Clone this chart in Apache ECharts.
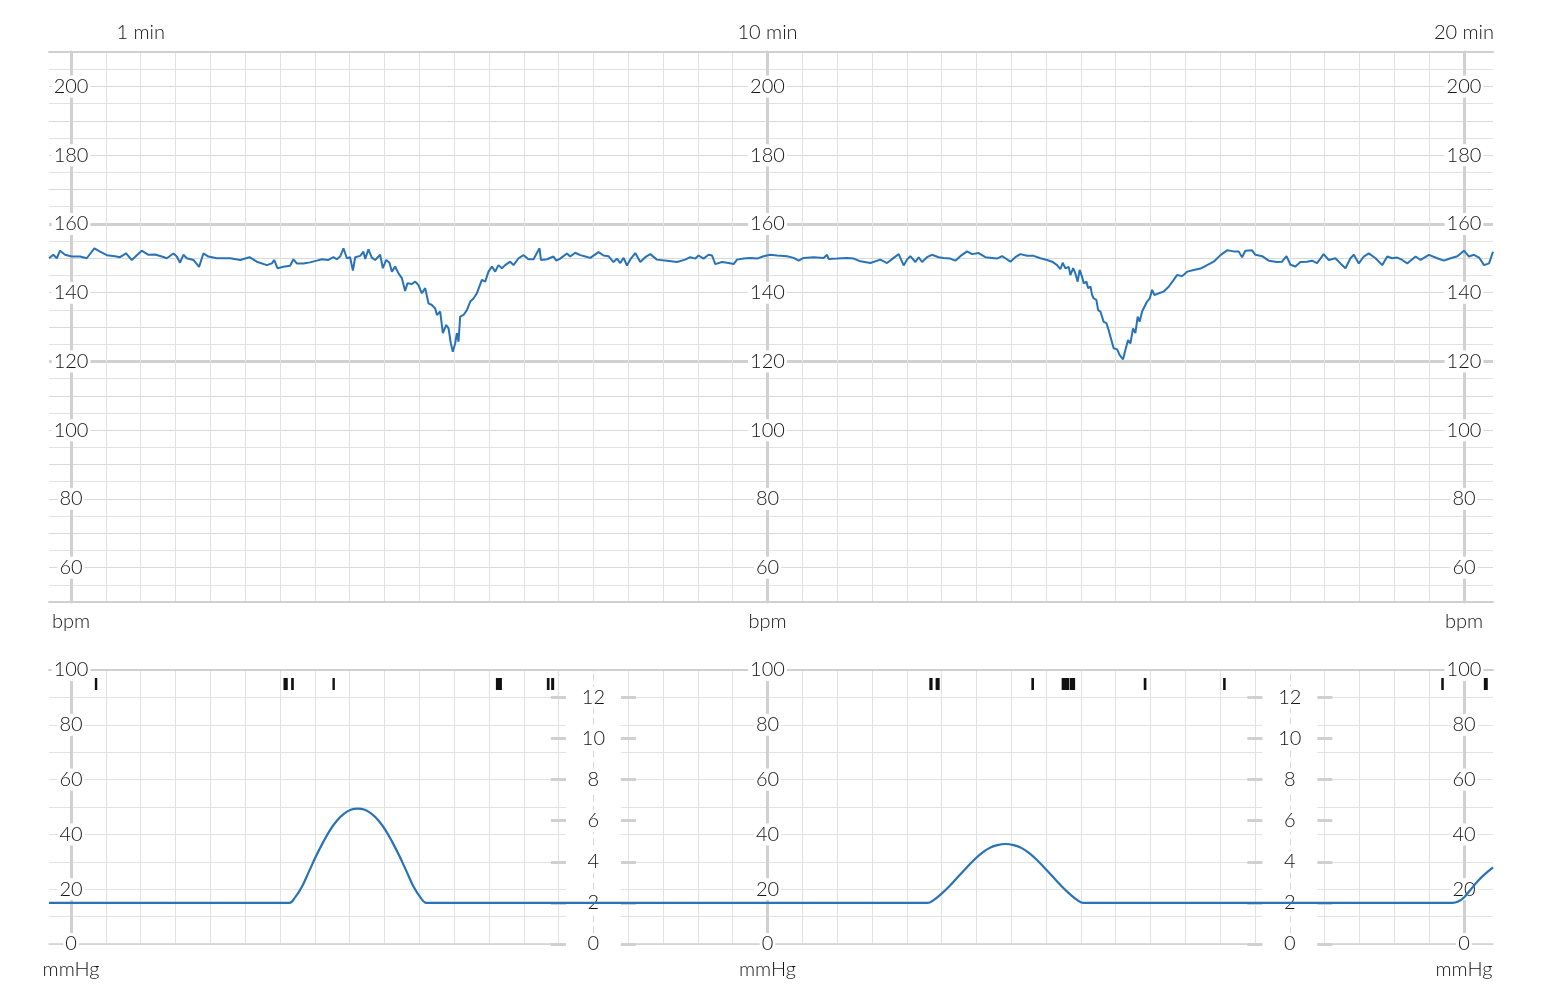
<!DOCTYPE html>
<html><head><meta charset="utf-8">
<script src="https://cdn.jsdelivr.net/npm/echarts@6/dist/echarts.min.js"></script>
<style>html,body{margin:0;padding:0;background:#fff}#c{width:1542px;height:1000px}</style>
</head><body><div id="c"></div>
<script>
// ---------- data ----------
const timeMin = -19, timeMax = 1225;               // seconds
const gridLineSeconds = [];
for (let s = 0; s <= 1200; s += 30) gridLineSeconds.push(s);
const minuteLabels = [60, 600, 1200];
const scaleAxisSeconds = [0, 600, 1200];
const kpaAxisSeconds = [450, 1050];
const bpmLabels = [60, 80, 100, 120, 140, 160, 180, 200];
const bpmMajor = [120, 160];
const mmHgLabels = [0, 20, 40, 60, 80, 100];
const kpaLabels = [0, 2, 4, 6, 8, 10, 12];

const fhrTime = [-19,-15.3,-12.3,-9.5,-5.2,0.6,7.8,13.5,20.1,25,30.8,37.9,42.2,47.4,52.3,60.9,66.6,72.4,78.2,82.5,88.2,91.1,93.9,96.8,99.7,105.4,110.3,114,118.3,125.6,137,145.7,153.7,160,168.7,173,175,177.8,183,188.7,191.6,194.5,200.2,206,211.7,216,221.7,226,229,231.8,234.7,237.6,240.4,242.8,244.8,249.1,251.9,253.4,256.2,259.1,262,266.3,268.6,271.5,274.3,276.4,279.2,282.1,285,287.8,289.8,293.6,296.5,299.3,302.2,305.1,307.9,310.8,313.7,315.2,318,320.3,323.2,325.2,327.2,328.9,330.9,332.4,333.8,335.2,338.1,341,343.9,346.7,349.6,353.9,356.8,359.6,362.6,365.4,368.2,371.2,374,378.3,381.2,385.5,389.8,394.1,398.4,401.9,403.6,404.8,410,415.6,418,421.4,427.2,430,434.3,438.7,443,447.3,454.4,458.7,463,467.3,470.3,473.1,476,478.9,482.3,486.1,490.4,494.7,499,504.7,513.4,522,529.1,533.4,537.8,540.6,544.9,549.2,552.2,555,560.8,566.5,570.8,573.7,579.4,585.2,590.9,596.6,602.4,608.2,616.8,622.5,626.8,631.1,639.7,648.3,651.3,652.6,659.9,668.5,674.2,680,688.6,697.2,703,708.7,713,717.3,720.2,723,727.4,730.2,733.1,737.4,741.7,747.4,751.7,757.5,761.8,766.1,771.9,776.2,781.9,787.7,793.5,797.8,802.1,804.9,809.2,813.5,817.8,823.6,829.3,835.1,840.8,845.2,849.5,852.3,854.3,856.6,859.5,860.9,863.3,865.2,867.2,868.9,871,872.4,874.7,876.2,878.2,879.6,881,883.3,884.8,886.8,889.6,892,893.9,895.4,898.2,901.2,903.4,906.3,908.3,910.6,912.6,914.9,916.9,918.9,920.6,922.7,924.7,927,929.3,931.3,933.3,937,941.3,945.6,949.9,952.8,957.2,961.5,967.2,973,978.7,984.4,990.2,995.9,1001.6,1005.9,1008.8,1011.7,1017.5,1020.3,1026.1,1031.8,1039,1043.3,1047.1,1050.5,1054.8,1059.1,1064.8,1069.1,1073.4,1076.3,1079.1,1083.5,1089.2,1093.6,1097.9,1102.2,1105.1,1109.4,1113.7,1118,1123.8,1129.6,1133.9,1138.2,1142.5,1146.8,1151.1,1158.3,1162.6,1169.8,1177,1182.7,1188.5,1194.3,1200,1204.3,1208.6,1213,1217.3,1221.6,1225];
const fhrBpm = [150,151,150,152.2,151,150.5,150.5,150,152.9,151.9,150.9,150.6,150.3,151.4,149.5,152.2,151,151.1,150.5,150,151.4,150.5,148.7,151,150,149.5,147.5,151.4,150.5,150,150,149.5,150.3,149,148,148.5,149.5,147.1,147.5,147.8,149.7,148.5,148.5,148.8,149.3,149.7,149.5,150.3,149.7,150.5,152.9,150,150.3,146.4,150.3,150.7,151.9,149.8,152.6,150.2,149.5,151,147.1,149.5,148.7,146.1,147.6,145.6,144.2,140.5,142.7,142.5,143.2,142.2,139.8,141.3,136.9,136.4,135.4,133.5,134.5,128.2,130.6,129.6,125.2,122.8,125.2,128.2,125.7,133,133.5,134.9,137.4,138.3,139.8,143.7,143.2,146.1,147.6,146.1,148,147.1,148,149,148,150,150.9,149.7,149.7,151.9,152.9,149.5,149.7,150.5,149.3,149.9,151.4,150.5,151.6,150.9,150.5,150.1,151.8,150.8,150.6,148.9,149.9,148.6,150.1,147.9,149.9,151.5,148.9,150.3,151.2,149.6,149.3,148.9,149.6,150.3,149.9,150.8,149.9,151,150.8,148.3,148.9,148.6,148.3,149.6,149.9,150.1,149.9,150.6,151,150.8,150.6,150.1,149.3,150.1,150.3,150.1,151,149.8,149.9,150.1,149.9,149.1,148.6,149.6,148.6,150.1,151.2,147.9,149.6,150.6,148.9,150.3,148.9,150.3,151,150.3,150.1,149.9,149.3,150.6,152,151.2,151.5,150.3,150.1,149.9,150.6,150,149,150.3,151.2,150.7,150.7,150,149.5,149,148,146.8,148.7,147.1,147.5,145.1,147.1,145.6,143.2,146.6,144.6,142.7,143.2,141.3,141.8,139.3,138.3,137.9,134.9,134.5,131.5,131.1,129.1,127.2,123.8,123.5,121.8,120.6,123.3,126.2,125.2,129.6,128.2,133,131.6,134.5,135.9,137.4,138.3,140.8,139.3,139.8,140.3,141.7,143.7,145.1,144.8,146.1,146.6,147,148,149,150.9,152.3,152,152,150.3,152.2,152.3,151,150.6,149.3,148.9,149,150.6,148.1,147.6,148.9,149,149.3,148.6,149.9,151.2,149.5,150,148.5,147.1,150,151,148.5,150.5,151.4,150,148,150.5,150,150.2,149.5,148.5,150.5,149.5,151,150,149.3,150,150.6,152.2,150.5,151,150.2,148,148.5,151.9];

const uaTime = [-19,188,193,199,205,211,217,223,229,235,241,247,253,259,265,271,277,283,289,295,301,306,312,738,743,749,756,763,770,777,784,791,798,805,812,819,826,833,840,847,854,861,867,872,1190,1195,1200,1206,1212,1218,1225];
const uaMmHg = [15,15,17,21,26.5,32,37,41.5,45,47.5,49,49.4,49,47.5,45,41.5,37,32,26.5,21,17,15,15,15,16,18,20.8,24,27.2,30.3,33,35,36.1,36.5,36.1,35,33,30.3,27.2,24,20.8,18,16,15,15,15.5,17,20,23,25.5,28];

const markStart = [20.5,183,189.6,225.2,366,409.9,413.6,739.4,744.8,827.3,853.4,860.3,924.1,992.5,1180.4,1217.1];
const markEnd   = [22.5,186.7,191.9,226.9,371.2,412.2,416.2,742.2,748.3,829.6,859.8,865,926.4,994.7,1182.6,1220.5];

// ---------- layout ----------
const W = 1542, gL = 49, gR = 49;
const pxPerSec = (W - gL - gR) / (timeMax - timeMin);
const xPx = t => gL + (t - timeMin) * pxPerSec;
const FONT = 'Lato, "Noto Sans", sans-serif';
const TXT = '#141414';
const THIN = '#e2e2e2', MID = '#d9d9d9', THICK = '#d0d0d0';
const BLUE = '#2872b8';

const labelStyle = {fontFamily: FONT, fontSize: 20, color: TXT, fontWeight: 300};

const xAxes = [
  {gridIndex: 0, position: 'bottom', z: 0},
  {gridIndex: 0, position: 'top', z: 0, labels: true},
  {gridIndex: 1, position: 'bottom', z: 0, lw: 1.5},
  {gridIndex: 1, position: 'top', z: 2, noSplit: true}
].map(o => ({
  type: 'value', gridIndex: o.gridIndex, position: o.position, min: timeMin, max: timeMax, z: o.z,
  axisLine: {show: true, onZero: false, lineStyle: {color: THICK, width: o.lw || 2}},
  axisTick: {show: false, customValues: gridLineSeconds},
  axisLabel: o.labels ? Object.assign({show: true, customValues: minuteLabels, margin: 9,
      formatter: v => (v / 60) + ' min'}, labelStyle) : {show: false},
  splitLine: {show: !o.labels && !o.noSplit && o.position === 'bottom', lineStyle: {color: THIN, width: 1}}
}));

const yAxes = [];
function plainY(grid, min, max, extra) {
  yAxes.push(Object.assign({
    type: 'value', gridIndex: grid, min: min, max: max, position: 'left',
    axisLine: {show: false, onZero: false}, axisTick: {show: false}, axisLabel: {show: false}
  }, extra));
  return yAxes.length - 1;
}
// top grid
const yFhr = plainY(0, 50, 210, {interval: 5, z: 0, splitLine: {show: true, lineStyle: {color: THIN, width: 1}}});
plainY(0, 50, 210, {interval: 10, z: 0, splitLine: {show: true, lineStyle: {color: MID, width: 1}}});
plainY(0, 50, 210, {z: 0, axisTick: {show: false, customValues: bpmMajor},
  splitLine: {show: true, lineStyle: {color: THICK, width: 3}}});
scaleAxisSeconds.forEach(t => plainY(0, 50, 210, {
  z: 3, offset: -(xPx(t) - gL),
  axisLine: {show: true, onZero: false, lineStyle: {color: THICK, width: 3}},
  axisLabel: Object.assign({show: true, customValues: bpmLabels, align: 'center', margin: 0,
    backgroundColor: '#fff', padding: [1, 2]}, labelStyle),
  splitLine: {show: false},
  name: 'bpm', nameLocation: 'start', nameGap: 10, nameTextStyle: labelStyle
}));
// bottom grid
const yUa = plainY(1, 0, 100, {interval: 10, z: 0, splitLine: {show: true, lineStyle: {color: THIN, width: 1}}});
scaleAxisSeconds.forEach(t => plainY(1, 0, 100, {
  z: 3, offset: -(xPx(t) - gL),
  axisLine: {show: true, onZero: false, lineStyle: {color: THICK, width: 3}},
  axisLabel: Object.assign({show: true, customValues: mmHgLabels, align: 'center', margin: 0,
    backgroundColor: '#fff', padding: [1, 2]}, labelStyle),
  splitLine: {show: false},
  name: 'mmHg', nameLocation: 'start', nameGap: 16, nameTextStyle: labelStyle
}));
const kpaMax = 100 / 7.5;
const half = 27.5;
kpaAxisSeconds.forEach(t => {
  const cx = xPx(t);
  // dashed centre line
  plainY(1, 0, kpaMax, {z: 2, offset: -(cx - gL), splitLine: {show: false},
    axisLine: {show: true, onZero: false, lineStyle: {color: '#d6d6d6', width: 1, type: [6, 5]}}});
  // left ticks + labels
  plainY(1, 0, kpaMax, {z: 3, offset: -(cx - half - gL), splitLine: {show: false},
    axisTick: {show: true, customValues: kpaLabels, length: 15, lineStyle: {color: THICK, width: 3}},
    axisLabel: Object.assign({show: true, customValues: kpaLabels, align: 'center', margin: -half,
      backgroundColor: '#fff', padding: [1, 3]}, labelStyle)});
  // right ticks
  plainY(1, 0, kpaMax, {z: 3, position: 'right', offset: (cx + half) - (W - gR), splitLine: {show: false},
    axisTick: {show: true, customValues: kpaLabels, length: 15, lineStyle: {color: THICK, width: 3}}});
});

const fhrData = fhrTime.map((t, i) => [t, fhrBpm[i]]);
const uaData = uaTime.map((t, i) => [t, uaMmHg[i]]);
const markData = markStart.map((s, i) => [s, markEnd[i]]);

const option = {
  animation: false,
  backgroundColor: '#fff',
  grid: [
    {left: gL, right: gR, top: 52, bottom: 398},
    {left: gL, right: gR, top: 670, bottom: 56}
  ],
  xAxis: xAxes,
  yAxis: yAxes,
  series: [
    {
      type: 'custom', xAxisIndex: 2, yAxisIndex: yUa, z: 1, silent: true,
      data: kpaAxisSeconds.map(t => [t]),
      renderItem: (p, api) => {
        const top = api.coord([api.value(0), 100]);
        const bot = api.coord([api.value(0), 0]);
        return {type: 'rect', shape: {x: top[0] - half, y: top[1] + 1.5, width: half * 2, height: bot[1] - top[1]},
          style: {fill: '#fff'}};
      }
    },
    {
      type: 'line', name: 'FHR', xAxisIndex: 0, yAxisIndex: yFhr, z: 4, data: fhrData,
      showSymbol: false, symbol: 'none', lineStyle: {color: BLUE, width: 2}, itemStyle: {color: BLUE}
    },
    {
      type: 'line', name: 'UA', xAxisIndex: 2, yAxisIndex: yUa, z: 4, data: uaData, smooth: 0.4,
      showSymbol: false, symbol: 'none', lineStyle: {color: BLUE, width: 2.2}, itemStyle: {color: BLUE}
    },
    {
      type: 'custom', name: 'marks', xAxisIndex: 2, yAxisIndex: yUa, z: 4,
      data: markData,
      renderItem: (p, api) => {
        const a = api.coord([api.value(0), 100]);
        const b = api.coord([api.value(1), 100]);
        const w = Math.max(b[0] - a[0], 2.4);
        return {type: 'rect', shape: {x: a[0], y: a[1] + 8, width: w, height: 12}, style: {fill: '#111'}};
      }
    }
  ]
};
const chart = echarts.init(document.getElementById('c'), null, {renderer: 'canvas'});
chart.setOption(option);
</script></body></html>
